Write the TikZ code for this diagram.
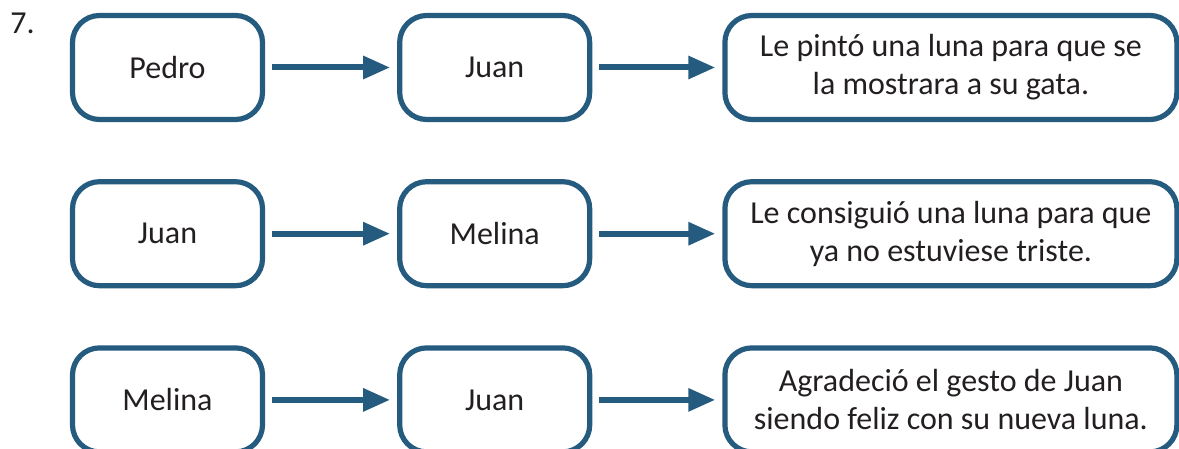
\documentclass[tikz,border=0pt]{standalone}
\usepackage{fontspec}
\setmainfont{Carlito}
\usetikzlibrary{positioning,arrows.meta}
\definecolor{boxblue}{RGB}{36,91,126}
\definecolor{textgray}{RGB}{35,31,32}

\begin{document}
\begin{tikzpicture}[node distance=66pt,
  every node/.style = {text=textgray, font=\fontsize{16}{19}\selectfont},
  person/.style = {shape=rectangle, rounded corners=13.5pt,
    draw=boxblue, line width=2.6pt,
    minimum width=95pt, minimum height=52pt},
  story/.style = {person, minimum width=226pt, align=center},
  link/.style = {draw=boxblue, line width=3pt,
    -{Triangle[length=13.5pt,width=11pt]},
    shorten <=3.5pt, shorten >=3.5pt}]
  \useasboundingbox (0,0) rectangle (589.5pt,-224.5pt);
  \node[anchor=base west, inner sep=0pt] (num) at (5pt,-17pt) {7.};
  % first row
  \node[person] (pedro) at (83.75pt,-33.75pt) {Pedro};
  \node[person, right=66pt of pedro] (juanA) {Juan};
  \node[story, right=65pt of juanA] (lunaA) {Le pintó una luna para que se\\la mostrara a su gata.};
  % second row
  \node[person, below=28.5pt of pedro] (juanB) {Juan};
  \node[person, right=66pt of juanB] (melinaB) {Melina};
  \node[story, right=65pt of melinaB] (lunaB) {Le consiguió una luna para que\\ya no estuviese triste.};
  % third row
  \node[person, below=28.5pt of juanB] (melinaC) {Melina};
  \node[person, right=66pt of melinaC] (juanC) {Juan};
  \node[story, right=65pt of juanC] (lunaC) {Agradeció el gesto de Juan\\siendo feliz con su nueva luna.};
  \draw[link] (pedro) -- (juanA);
  \draw[link] (juanA) -- (lunaA);
  \draw[link] (juanB) -- (melinaB);
  \draw[link] (melinaB) -- (lunaB);
  \draw[link] (melinaC) -- (juanC);
  \draw[link] (juanC) -- (lunaC);
\end{tikzpicture}
\end{document}
